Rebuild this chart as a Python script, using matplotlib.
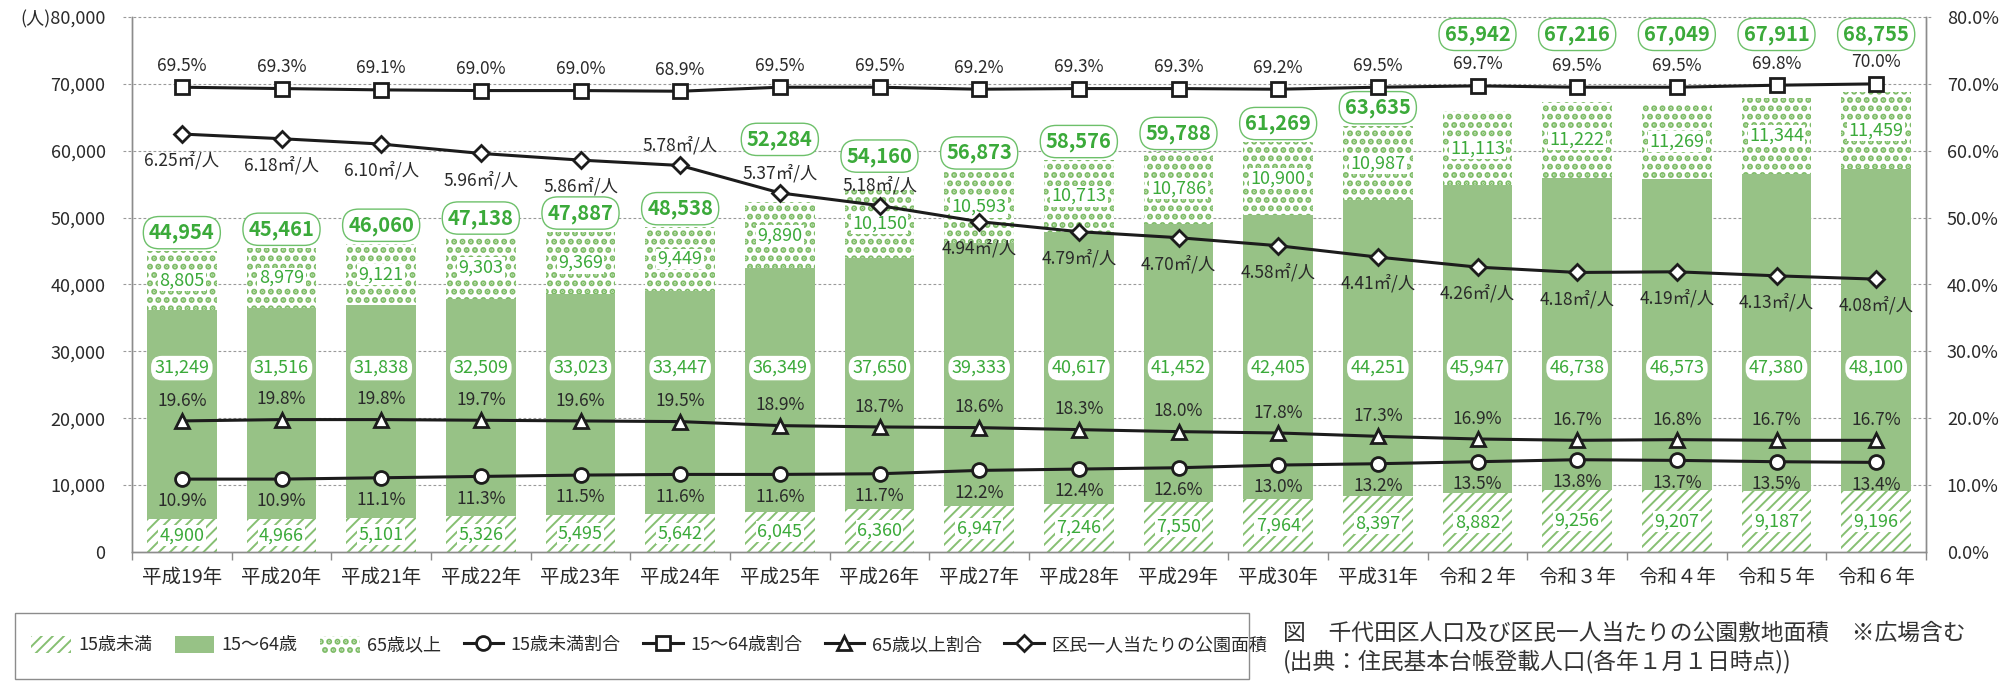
import numpy as np
import matplotlib
matplotlib.use("Agg")
import matplotlib.pyplot as plt
import matplotlib.transforms as mtransforms
from matplotlib.patches import Patch, Rectangle
from matplotlib.lines import Line2D

plt.rcParams['font.family'] = ['Noto Sans CJK JP', 'DejaVu Sans']
plt.rcParams['hatch.linewidth'] = 1.4

# ---- data ---------------------------------------------------------------
years = ['平成19年', '平成20年', '平成21年', '平成22年', '平成23年', '平成24年',
         '平成25年', '平成26年', '平成27年', '平成28年', '平成29年', '平成30年',
         '平成31年', '令和２年', '令和３年', '令和４年', '令和５年', '令和６年']

under15 = [4900, 4966, 5101, 5326, 5495, 5642, 6045, 6360, 6947, 7246,
           7550, 7964, 8397, 8882, 9256, 9207, 9187, 9196]
working = [31249, 31516, 31838, 32509, 33023, 33447, 36349, 37650, 39333, 40617,
           41452, 42405, 44251, 45947, 46738, 46573, 47380, 48100]
elderly = [8805, 8979, 9121, 9303, 9369, 9449, 9890, 10150, 10593, 10713,
           10786, 10900, 10987, 11113, 11222, 11269, 11344, 11459]
totals = [44954, 45461, 46060, 47138, 47887, 48538, 52284, 54160, 56873, 58576,
          59788, 61269, 63635, 65942, 67216, 67049, 67911, 68755]

under15_pct = [10.9, 10.9, 11.1, 11.3, 11.5, 11.6, 11.6, 11.7, 12.2, 12.4,
               12.6, 13.0, 13.2, 13.5, 13.8, 13.7, 13.5, 13.4]
working_pct = [69.5, 69.3, 69.1, 69.0, 69.0, 68.9, 69.5, 69.5, 69.2, 69.3,
               69.3, 69.2, 69.5, 69.7, 69.5, 69.5, 69.8, 70.0]
elderly_pct = [19.6, 19.8, 19.8, 19.7, 19.6, 19.5, 18.9, 18.7, 18.6, 18.3,
               18.0, 17.8, 17.3, 16.9, 16.7, 16.8, 16.7, 16.7]
park_area = [6.25, 6.18, 6.10, 5.96, 5.86, 5.78, 5.37, 5.18, 4.94, 4.79,
             4.70, 4.58, 4.41, 4.26, 4.18, 4.19, 4.13, 4.08]

legend_labels = ['15歳未満', '15～64歳', '65歳以上', '15歳未満割合',
                 '15～64歳割合', '65歳以上割合', '区民一人当たりの公園面積']
title_text = ('図　千代田区人口及び区民一人当たりの公園敷地面積　※広場含む\n'
              '(出典：住民基本台帳登載人口(各年１月１日時点))')

# ---- layout / style -------------------------------------------------------
GREEN = '#97C286'
HATCH_GREEN = '#86BF72'
DOT_GREEN = '#7DBB66'
LABEL_GREEN = '#3BAA3A'
BOX_EDGE = '#6DC06A'
LINE = '#1c1c1c'
AXIS_GRAY = '#8c8c8c'
TEXT = '#2a2a2a'
DOT_HATCH_LW = 3.0

# vertical placement of the total labels (above each bar, lifted where
# they would otherwise collide with the line labels)
total_label_y = [t + 2800 for t in totals]
total_label_y[6] = 61700
total_label_y[7] = 59200
for i in range(13, 18):
    total_label_y[i] = 77400
working_label_y = 27500
area_label_above = {5, 6, 7}


def thicken_dots(patches):
    for p in patches:
        if hasattr(p, 'set_hatch_linewidth'):
            p.set_hatch_linewidth(DOT_HATCH_LW)


W, H = 2000, 681
fig = plt.figure(figsize=(W / 100, H / 100), dpi=100)
ax = fig.add_axes([132 / W, 1 - 552 / H, (1926 - 132) / W, (552 - 17) / H])
ax2 = ax.twinx()

x = np.arange(len(years))
bw = 0.7

# dashed grid, running slightly past both spines
gtrans = mtransforms.blended_transform_factory(ax.transAxes, ax.transData)
for v in range(10000, 80001, 10000):
    ax.plot([-0.005, 1.0035], [v, v], transform=gtrans, clip_on=False,
            color='#9a9a9a', lw=0.8, ls=(0, (2.5, 2)), zorder=0.5)

bottom2 = np.array(under15)
bottom3 = bottom2 + np.array(working)
ax.bar(x, under15, bw, color='white', edgecolor=HATCH_GREEN, linewidth=0,
       hatch='///', zorder=2)
ax.bar(x, working, bw, bottom=bottom2, color=GREEN, linewidth=0, zorder=2)
dots = ax.bar(x, elderly, bw, bottom=bottom3, color='white',
              edgecolor=DOT_GREEN, linewidth=0, hatch='..', zorder=2)
thicken_dots(dots)

for i in x:
    ax.text(i, under15[i] / 2, f'{under15[i]:,}', ha='center', va='center',
            fontsize=13, color=LABEL_GREEN, zorder=4,
            bbox=dict(boxstyle='square,pad=0.08', fc='white', ec='none'))
    ax.text(i, working_label_y, f'{working[i]:,}', ha='center', va='center',
            fontsize=13, color=LABEL_GREEN, zorder=4,
            bbox=dict(boxstyle='round,pad=0.18,rounding_size=0.6',
                      fc='white', ec='none'))
    ax.text(i, bottom3[i] + elderly[i] / 2, f'{elderly[i]:,}', ha='center',
            va='center', fontsize=13, color=LABEL_GREEN, zorder=4,
            bbox=dict(boxstyle='square,pad=0.08', fc='white', ec='none'))
    ax.text(i, total_label_y[i], f'{totals[i]:,}', ha='center', va='center',
            fontsize=14.5, fontweight='bold', color=LABEL_GREEN, zorder=4,
            bbox=dict(boxstyle='round,pad=0.28,rounding_size=0.8',
                      fc='white', ec=BOX_EDGE, lw=1))

# ratio lines and park area on the secondary axis
line_kw = dict(color=LINE, lw=2.2, mfc='white', mec=LINE, mew=2, zorder=5)
ax2.plot(x, under15_pct, marker='o', ms=10, **line_kw)
ax2.plot(x, working_pct, marker='s', ms=10, **line_kw)
ax2.plot(x, elderly_pct, marker='^', ms=10.5, **line_kw)
area_scaled = np.array(park_area) * 10
ax2.plot(x, area_scaled, marker='D', ms=8, **line_kw)

for i in x:
    ax2.annotate(f'{working_pct[i]:.1f}%', (i, working_pct[i]),
                 xytext=(0, 15.5), textcoords='offset points', ha='center',
                 va='center', fontsize=12.5, color=TEXT, zorder=6)
    ax2.annotate(f'{elderly_pct[i]:.1f}%', (i, elderly_pct[i]),
                 xytext=(0, 14.5), textcoords='offset points', ha='center',
                 va='center', fontsize=12.5, color=TEXT, zorder=6)
    ax2.annotate(f'{under15_pct[i]:.1f}%', (i, under15_pct[i]),
                 xytext=(0, -16), textcoords='offset points', ha='center',
                 va='center', fontsize=12.5, color=TEXT, zorder=6)
    dy = 14.5 if i in area_label_above else -19
    ax2.annotate(f'{park_area[i]:.2f}㎡/人', (i, area_scaled[i]),
                 xytext=(0, dy), textcoords='offset points', ha='center',
                 va='center', fontsize=12.5, color=TEXT, zorder=6)

# axes
ax.set_xlim(-0.5, len(years) - 0.5)
ax.set_ylim(0, 80000)
ax2.set_ylim(0, 80)

yt = list(range(0, 80001, 10000))
ylabels = [f'{v:,}' for v in yt]
ylabels[-1] = '(人)' + ylabels[-1]
ax.set_yticks(yt, ylabels)
ax.tick_params(axis='y', length=0, pad=19, labelsize=13, labelcolor=TEXT)

rt = list(range(0, 81, 10))
ax2.set_yticks(rt, [f'{v:.1f}%' for v in rt])
ax2.tick_params(axis='y', length=0, pad=15, labelsize=13, labelcolor=TEXT)

ax.set_xticks(x, years)
ax.tick_params(axis='x', which='major', length=0, pad=11, labelsize=14,
               labelcolor=TEXT)
ax.set_xticks(np.arange(-0.5, len(years), 1.0), minor=True)
ax.tick_params(axis='x', which='minor', length=6, width=1, color=AXIS_GRAY)

for a in (ax, ax2):
    a.spines['top'].set_visible(False)
    for s in ('left', 'right', 'bottom'):
        a.spines[s].set_color(AXIS_GRAY)
        a.spines[s].set_linewidth(1)

# legend in a framed strip along the bottom
fig.patches.append(Rectangle((15 / W, 2 / H), (1249 - 15) / W, (H - 613 - 2) / H,
                             transform=fig.transFigure, fill=False,
                             ec=AXIS_GRAY, lw=1))
mk = dict(color=LINE, lw=2.2, mfc='white', mec=LINE, mew=2)
handles = [
    Patch(facecolor='white', edgecolor=HATCH_GREEN, hatch='///', linewidth=0),
    Patch(facecolor=GREEN, linewidth=0),
    Patch(facecolor='white', edgecolor=DOT_GREEN, hatch='..', linewidth=0),
    Line2D([], [], marker='o', ms=10, **mk),
    Line2D([], [], marker='s', ms=10, **mk),
    Line2D([], [], marker='^', ms=10.5, **mk),
    Line2D([], [], marker='D', ms=8, **mk),
]
leg = fig.legend(handles, legend_labels, loc='center left',
                 bbox_to_anchor=(31 / W, 1 - 645 / H), ncol=7, frameon=False,
                 fontsize=13, handlelength=2.2, handleheight=1.1,
                 handletextpad=0.4, columnspacing=1.25, borderpad=0,
                 borderaxespad=0, labelcolor=TEXT)
thicken_dots([leg.legend_handles[2]])

fig.text(1283 / W, 1 - 648 / H, title_text, ha='left', va='center',
         fontsize=16.4, linespacing=1.3, color='#333333')

fig.savefig('out.png', dpi=100)
